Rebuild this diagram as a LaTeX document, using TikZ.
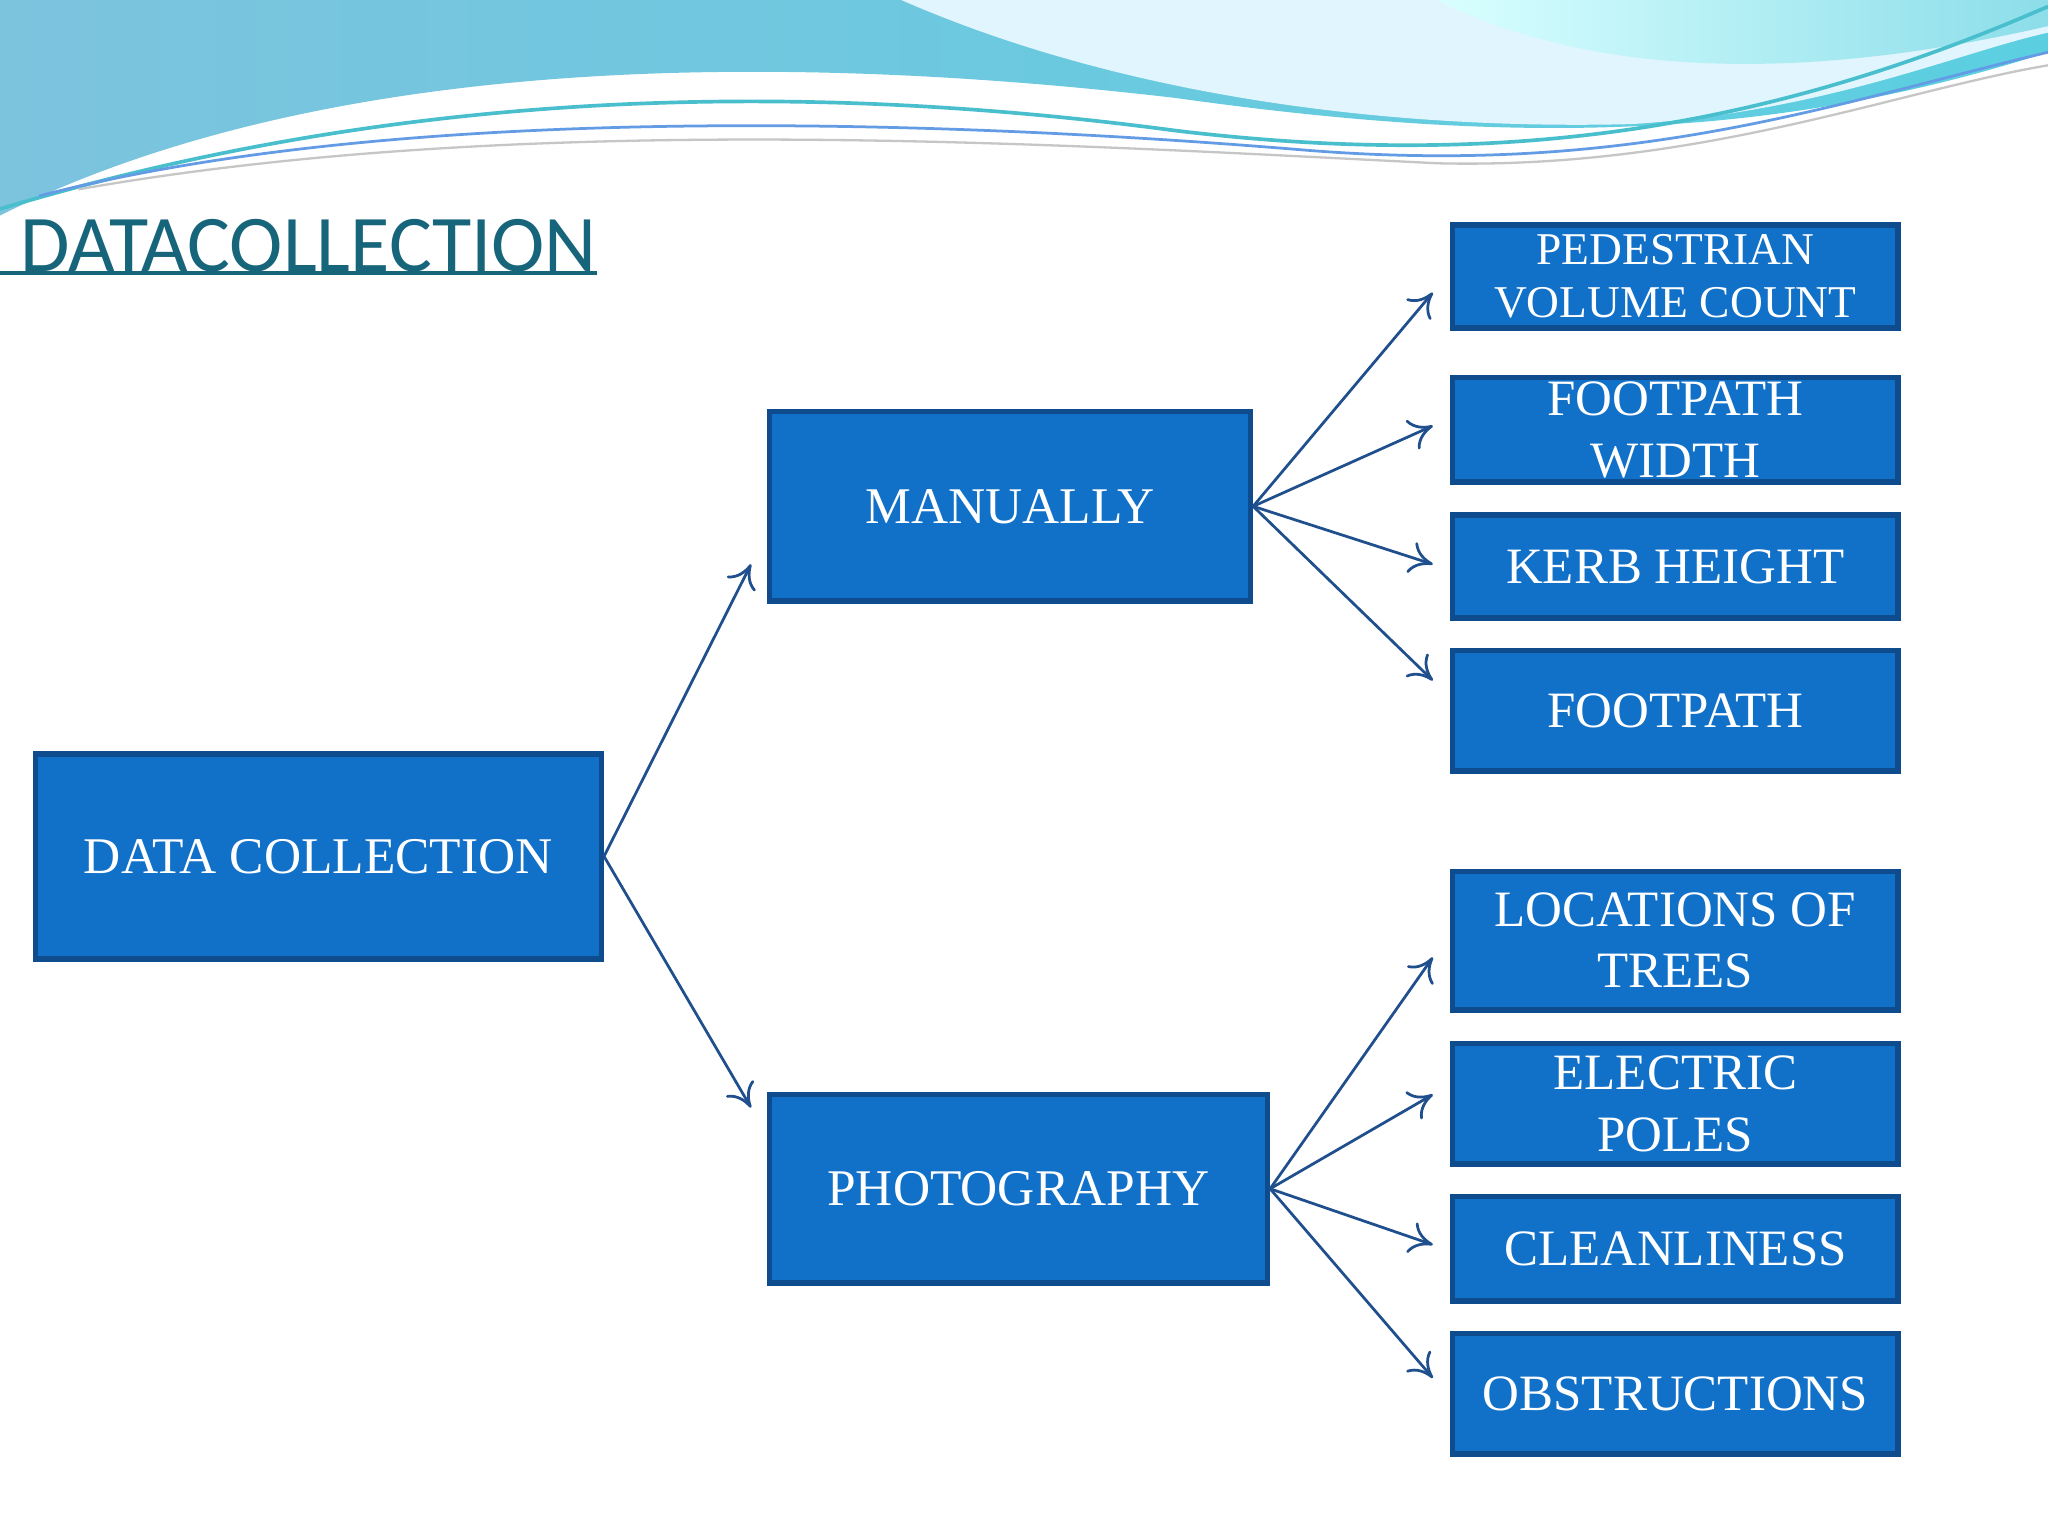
\documentclass[tikz,border=0pt]{standalone}
\usepackage{fontspec}
\setmainfont{Liberation Serif}
\newfontfamily\titlefont{Carlito}
\usetikzlibrary{arrows.meta}
\definecolor{boxfill}{HTML}{1170C8}
\definecolor{boxline}{HTML}{0E4C8E}
\definecolor{arr}{HTML}{1F4F8C}
\definecolor{ttl}{HTML}{17657A}
\definecolor{wl}{HTML}{7CC3DE}
\definecolor{wr}{HTML}{5BCFE0}
\begin{document}
\begin{tikzpicture}[x=0.01cm,y=-0.01cm,
  bx/.style={draw=boxline,line width=1.2pt,fill=boxfill,text=white,align=center,inner sep=0pt,anchor=north west},
  big/.style={font=\fontsize{11.2}{13}\selectfont},
  sm/.style={font=\fontsize{9.9}{11.5}\selectfont},
  md/.style={font=\fontsize{11.1}{13.4}\selectfont},
  ar/.style={draw=arr,line width=0.6pt,-{To[length=5pt,width=7pt]}}]
\useasboundingbox (0,0) rectangle (1568,1176);
\fill[white!95!blue!3] (0,0) rectangle (1568,1176);
% top wave
\shade[left color=wl,right color=wr] (0,0) -- (1568,0) -- (1568,40) .. controls (1350,110) and (1150,110) .. (900,75) .. controls (600,40) and (250,40) .. (0,165) -- cycle;
\fill[white!88!cyan] (690,0) .. controls (850,70) and (1050,100) .. (1250,95) .. controls (1400,85) and (1500,40) .. (1568,25) -- (1568,0) -- cycle;
\shade[left color=white!85!cyan,right color=wr!70] (1100,0) .. controls (1200,50) and (1350,70) .. (1568,20) -- (1568,0) -- cycle;
\draw[wr!80!teal,line width=0.8pt] (0,160) .. controls (300,70) and (600,60) .. (900,100) .. controls (1150,130) and (1350,100) .. (1568,5);
\draw[wl!80!blue,line width=0.6pt] (30,150) .. controls (300,80) and (700,90) .. (1000,115) .. controls (1250,135) and (1400,80) .. (1568,40);
\draw[white!55!gray,line width=0.5pt] (60,145) .. controls (400,85) and (800,110) .. (1100,125) .. controls (1300,130) and (1450,70) .. (1568,50);
% title
\node[anchor=base west,inner sep=0pt,text=ttl,font=\titlefont\fontsize{17.5}{20}\selectfont] (title) at (15,208) {DATACOLLECTION};
\draw[ttl,line width=0.8pt] (0,209) -- (457,209);
% boxes
\node[bx,big,minimum width=4.33cm,minimum height=1.57cm] (dc) at (25,575) {DATA COLLECTION};
\node[bx,big,minimum width=3.68cm,minimum height=1.45cm] (man) at (587,313) {MANUALLY};
\node[bx,big,minimum width=3.81cm,minimum height=1.44cm] (pho) at (587,836) {PHOTOGRAPHY};
\node[bx,sm,minimum width=3.41cm,minimum height=0.79cm] (b1) at (1110,170) {PEDESTRIAN\\VOLUME COUNT};
\node[bx,md,minimum width=3.41cm,minimum height=0.80cm] (b2) at (1110,287) {FOOTPATH\\WIDTH};
\node[bx,md,minimum width=3.41cm,minimum height=0.79cm] (b3) at (1110,392) {KERB HEIGHT};
\node[bx,md,minimum width=3.41cm,minimum height=0.92cm] (b4) at (1110,496) {FOOTPATH};
\node[bx,md,minimum width=3.41cm,minimum height=1.06cm] (b5) at (1110,665) {LOCATIONS OF\\TREES};
\node[bx,md,minimum width=3.41cm,minimum height=0.92cm] (b6) at (1110,797) {ELECTRIC\\POLES};
\node[bx,md,minimum width=3.41cm,minimum height=0.80cm] (b7) at (1110,914) {CLEANLINESS};
\node[bx,md,minimum width=3.41cm,minimum height=0.92cm] (b8) at (1110,1019) {OBSTRUCTIONS};
% arrow endpoints
\coordinate (m1) at (575,432); \coordinate (p1) at (575,848);
\coordinate (e1) at (1097,224); \coordinate (e2) at (1097,326);
\coordinate (e3) at (1097,432); \coordinate (e4) at (1097,521);
\coordinate (f1) at (1097,733); \coordinate (f2) at (1097,838);
\coordinate (f3) at (1097,953); \coordinate (f4) at (1097,1055);
\draw[ar] (dc.east) -- (m1);
\draw[ar] (dc.east) -- (p1);
\foreach \t in {e1,e2,e3,e4} \draw[ar] (man.east) -- (\t);
\foreach \t in {f1,f2,f3,f4} \draw[ar] (pho.east) -- (\t);
\end{tikzpicture}
\end{document}
